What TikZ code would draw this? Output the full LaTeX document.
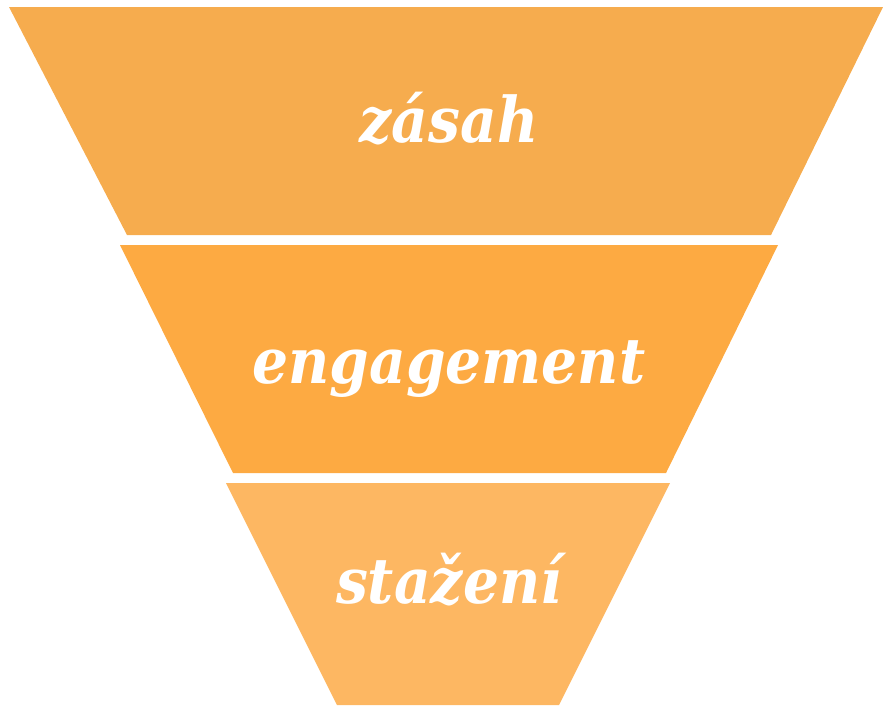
\documentclass[tikz,border=0pt]{standalone}
\usepackage{fontspec}
\setmainfont{DejaVu Serif Condensed}
\definecolor{topband}{HTML}{F6AC4E}
\definecolor{midband}{HTML}{FDAA42}
\definecolor{lowband}{HTML}{FDB762}
\begin{document}
\begin{tikzpicture}[
      x=1pt, y=-1pt,
      every node/.style={align=center},
      label/.style={text=white, font=\fontsize{63}{75}\selectfont\bfseries\itshape, inner sep=0pt, anchor=base}
    ]
      \useasboundingbox (0,0) rectangle (883,705);

% Bands
      \fill[topband] (9,7) -- (883,7) -- (771,235) -- (127,235) -- cycle;
      \fill[midband] (120,245) -- (778,245) -- (666,473) -- (233,473) -- cycle;
      \fill[lowband] (226,483) -- (670,483) -- (559,705) -- (337,705) -- cycle;

% Labels
      \node[label] (zasah) at (449,142) {zásah};
      \node[label] (engagement) at (449,383) {engagement};
      \node[label] (stazeni) at (449,603) {stažení};

    \end{tikzpicture}
\end{document}
